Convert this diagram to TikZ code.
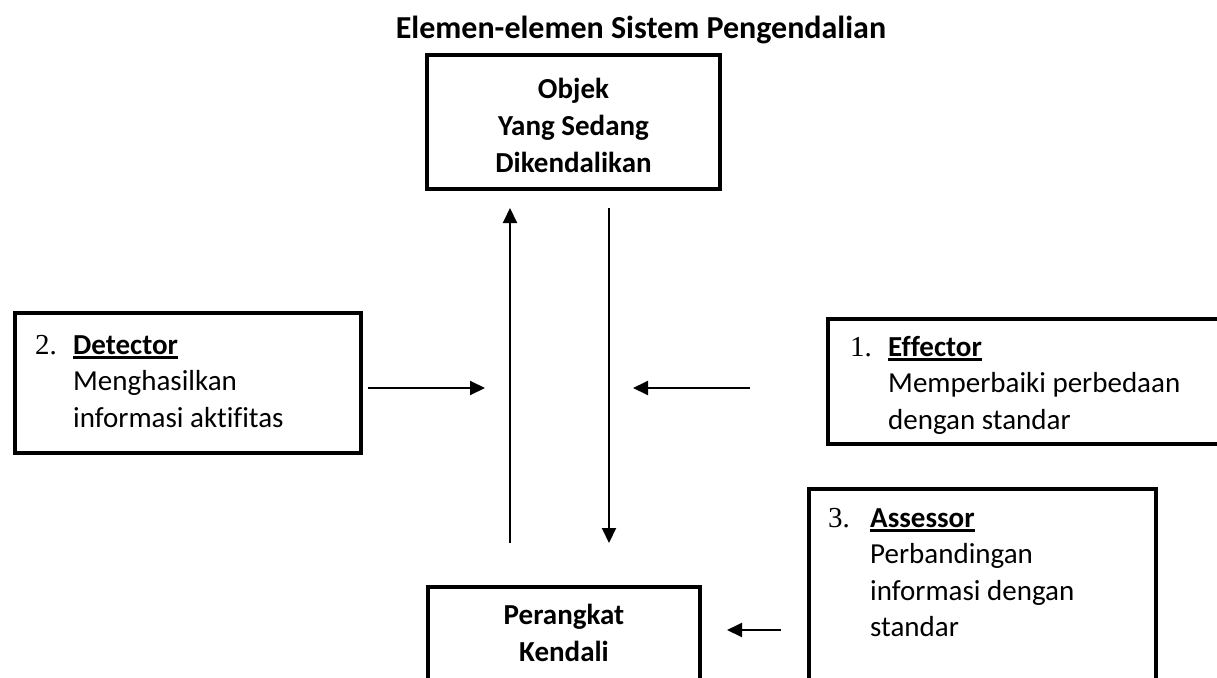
\documentclass[tikz,border=0pt]{standalone}
\usepackage{fontspec}
\setmainfont{Carlito}[Ligatures=NoCommon]
\newfontfamily\numfont{Liberation Serif}
\usetikzlibrary{arrows.meta}
\tikzset{
  box/.style={draw, line width=3.5pt, inner sep=0pt},
  txt/.style={anchor=base west, align=left, inner sep=0pt, font=\fontsize{29}{36.5}\selectfont},
  ctxt/.style={anchor=base, align=center, inner sep=0pt, font=\bfseries\fontsize{29}{37}\selectfont},
  arr/.style={line width=2pt, -{Triangle[length=15pt,width=14pt]}},
}
\newcommand{\numlbl}[2]{\llap{\makebox[#1][l]{\numfont #2}}}
\newcommand{\ulbold}[1]{\vtop{\hbox{\textbf{#1}}\kern2pt\hrule height 2.4pt}}
\begin{document}
\begin{tikzpicture}[x=1pt,y=-1pt]
\clip (0,0) rectangle (1217,677);
\fill[white] (0,0) rectangle (1217,677);
\node[anchor=base, inner sep=0pt, font=\bfseries\fontsize{32}{38}\selectfont] (title) at (641,38) {Elemen-elemen Sistem Pengendalian};
% boxes
\node[box, minimum width=293pt, minimum height=134pt] (objek) at (573.5,122) {};
\node[box, minimum width=346pt, minimum height=140pt] (detbox) at (188,383) {};
\node[box, minimum width=412pt, minimum height=125pt] (effbox) at (1034,381.5) {};
\node[box, minimum width=347pt, minimum height=211pt] (assbox) at (982.5,594.5) {};
\node[box, minimum width=272pt, minimum height=113pt] (pkbox) at (564,643.5) {};
% texts (anchor base = baseline of last line)
\node[ctxt] (objekt) at (573.5,172) {Objek\\Yang Sedang\\Dikendalikan};
\node[ctxt] (pkt) at (564,661) {Perangkat\\Kendali};
\node[txt] (dett) at (73,427) {\numlbl{38pt}{2.}\ulbold{Detector}\\Menghasilkan\\informasi aktifitas};
\node[txt] (efft) at (888,429) {\numlbl{38pt}{1.}\ulbold{Effector}\\Memperbaiki perbedaan\\dengan standar};
\node[txt] (asst) at (870,636.5) {\numlbl{42pt}{3.}\ulbold{Assessor}\\Perbandingan\\informasi dengan\\standar};
% arrows
\coordinate (upS) at (510,543); \coordinate (upE) at (510,208);
\coordinate (dnS) at (609,208); \coordinate (dnE) at (609,543);
\coordinate (detS) at (368,388); \coordinate (detE) at (485,388);
\coordinate (effS) at (750,388); \coordinate (effE) at (633,388);
\coordinate (assS) at (781,630); \coordinate (assE) at (727,630);
\draw[arr] (upS) -- (upE);
\draw[arr] (dnS) -- (dnE);
\draw[arr] (detS) -- (detE);
\draw[arr] (effS) -- (effE);
\draw[arr] (assS) -- (assE);
\end{tikzpicture}
\end{document}
